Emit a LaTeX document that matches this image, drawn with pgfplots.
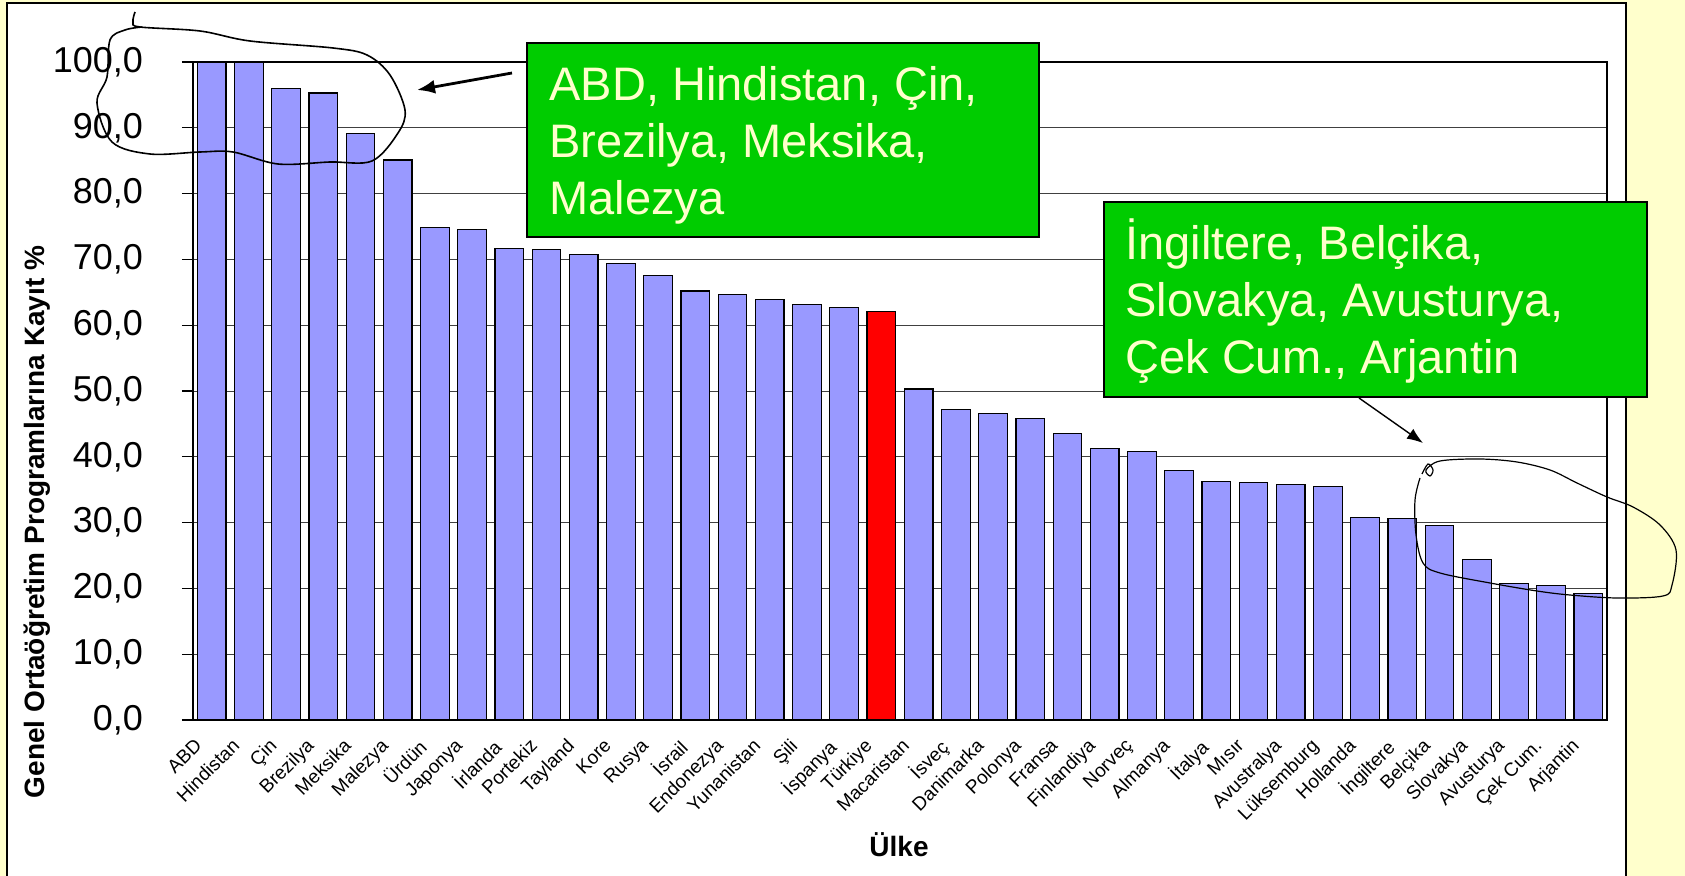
\documentclass[border=0pt]{standalone}
\usepackage{fontspec}
\setmainfont{Liberation Sans}
\usepackage{pgfplots}
\pgfplotsset{compat=1.18}
\usepackage{pgfplotstable}
\usetikzlibrary{arrows.meta}
\definecolor{bg}{HTML}{FFFFCC}
\definecolor{barblue}{HTML}{9999FF}
\definecolor{boxgreen}{HTML}{00CC00}
\definecolor{boxtext}{HTML}{FFFFCC}

\pgfplotstableread{
idx val
0 100.0
1 100.0
2 96.0
3 95.3
4 89.1
5 85.1
6 74.9
7 74.5
8 71.7
9 71.5
10 70.8
11 69.4
12 67.5
13 65.2
14 64.7
15 63.9
16 63.2
17 62.7
19 50.3
20 47.2
21 46.6
22 45.8
23 43.6
24 41.3
25 40.8
26 37.9
27 36.3
28 36.1
29 35.8
30 35.5
31 30.8
32 30.6
33 29.6
34 24.4
35 20.7
36 20.4
37 19.2
}\bluedata
\pgfplotstableread{
idx val
18 62.1
}\reddata

\begin{document}
\begin{tikzpicture}
\begin{scope}[x=0.5pt,y=-0.5pt]
\path[use as bounding box] (0,0) rectangle (1685,876);
\fill[bg] (0,0) rectangle (1685,876);
\draw[fill=white, line width=0.6pt] (7,3) -- (1626,3) -- (1626,885) -- (7,885) -- cycle;
\end{scope}
\begin{axis}[
  at={(96.5pt,-360pt)}, anchor=south west,
  width=707pt, height=329pt, scale only axis,
  xmin=-0.5, xmax=37.5, ymin=0, ymax=100,
  ytick={0,10,...,100},
  xtick=\empty,
  minor xtick={-0.5,0.5,...,37.5},
  minor tick length=2.5pt,
  extra x ticks={0,...,37},
  extra x tick labels={ABD,Hindistan,Çin,Brezilya,Meksika,Malezya,Ürdün,Japonya,İrlanda,Portekiz,Tayland,Kore,Rusya,İsrail,Endonezya,Yunanistan,Şili,İspanya,Türkiye,Macaristan,İsveç,Danimarka,Polonya,Fransa,Finlandiya,Norveç,Almanya,İtalya,Mısır,Avustralya,Lüksemburg,Hollanda,İngiltere,Belçika,Slovakya,Avusturya,Çek Cum.,Arjantin},
  extra x tick style={major tick length=0pt, grid=none,
    xticklabel style={font=\fontsize{9.5}{9.5}\selectfont, xshift=-9pt, yshift=-7pt, rotate=45, anchor=north east, inner sep=1pt}},
  tick align=outside,
  major tick length=5.5pt,
  xtick pos=bottom, ytick pos=left,
  ymajorgrids, grid style={black!75, line width=0.5pt},
  axis line style={line width=0.6pt},
  tick style={black, line width=0.6pt},
  yticklabel style={font=\fontsize{18}{18}\selectfont, xshift=-16pt,
    /pgf/number format/fixed, /pgf/number format/fixed zerofill,
    /pgf/number format/precision=1, /pgf/number format/use comma,
    /pgf/number format/assume math mode=true},
  xlabel={Ülke},
  ylabel={Genel Ortaöğretim Programlarına Kayıt \%},
  xlabel style={at={(axis description cs:0.4993,-0.19)}, anchor=center, font=\bfseries\fontsize{14}{14}\selectfont},
  ylabel style={at={(axis description cs:-0.1103,0.301)}, anchor=center, font=\bfseries\fontsize{14}{14}\selectfont},
]
\addplot[ybar, bar width=0.77, fill=barblue, draw=black, line width=0.6pt] table[x=idx,y=val]{\bluedata};
\addplot[ybar, bar width=0.77, fill=red, draw=black, line width=0.6pt] table[x=idx,y=val]{\reddata};
\end{axis}
\begin{scope}[x=0.5pt,y=-0.5pt]
% hand-drawn marks
\draw[line width=0.8pt] plot[smooth, tension=0.55] coordinates {(135,12) (133,22) (140,27) (200,31) (250,41) (333,48) (367,55) (390,75) (405,110) (398,133) (372,161) (330,162) (278,164) (233,152) (200,152) (150,154) (112,142) (97,103) (107,77) (110,40) (125,30) (142,27)};
\draw[line width=0.6pt] plot[smooth, tension=0.55] coordinates {(1422,474) (1428,464) (1433,470) (1430,476) (1426,470) (1440,461) (1480,459) (1517,462) (1550,470) (1577,483) (1607,497) (1633,507) (1660,525) (1676,550) (1672,585) (1663,596) (1617,598) (1570,595) (1537,591) (1490,583) (1440,573) (1423,563) (1416,535) (1415,500) (1420,478)};
% arrows
\draw[line width=1.4pt, -{Latex[length=9pt, width=7pt]}] (512,73) -- (417,90);
\draw[line width=0.7pt, -{Latex[length=8pt, width=6pt]}] (1359,398) -- (1423,443);
% boxes
\draw[fill=boxgreen, draw=black, line width=0.8pt] (527,43) rectangle (1039,237);
\draw[fill=boxgreen, draw=black, line width=0.8pt] (1104,202) rectangle (1647,397);
\begin{scope}[every node/.style={anchor=base west, text=boxtext, inner sep=0pt, font=\fontsize{23.5}{28}\selectfont}]
\node at (549,101) {ABD, Hindistan, Çin,};
\node at (549,158) {Brezilya, Meksika,};
\node at (549,215) {Malezya};
\node at (1125,260) {İngiltere, Belçika,};
\node at (1125,317) {Slovakya, Avusturya,};
\node at (1125,374) {Çek Cum., Arjantin};
\end{scope}
\end{scope}
\end{tikzpicture}
\end{document}
